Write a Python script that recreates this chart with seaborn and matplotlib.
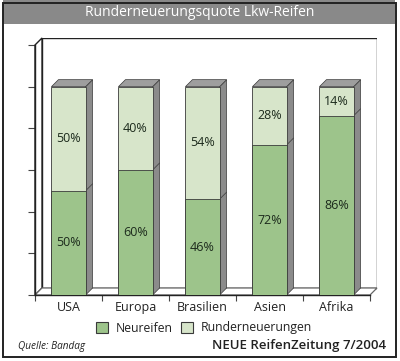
import numpy as np
import pandas as pd
import matplotlib
matplotlib.use("Agg")
import matplotlib.pyplot as plt
from matplotlib.patches import Polygon, Rectangle, Patch
import seaborn as sns

# data
regions = ["USA", "Europa", "Brasilien", "Asien", "Afrika"]
neureifen = [50, 60, 46, 72, 86]
runderneuerungen = [50, 40, 54, 28, 14]
series_names = ["Neureifen", "Runderneuerungen"]

title = "Runderneuerungsquote Lkw-Reifen"
source = "Quelle: Bandag"
credit = "NEUE ReifenZeitung 7/2004"

green = "#9dc48b"
light = "#d7e5ca"
side_gray = "#8b8b8b"
top_gray = "#9e9e9e"
text_dark = "#1c2a1c"

sns.set_theme(style="white")
plt.rcParams["font.family"] = ["Open Sans", "DejaVu Sans"]

W, H = 400, 361
fig = plt.figure(figsize=(W / 100, H / 100), dpi=100)

def fx(px):
    return px / W

def fy(py):
    return 1 - py / H

# frame and title bar
fig.patches.append(Rectangle((fx(3), fy(24)), fx(392), 24 / H, transform=fig.transFigure,
                             facecolor="#898989", edgecolor="none", zorder=0))
fig.patches.append(Rectangle((fx(3), fy(357)), fx(393), 354 / H, transform=fig.transFigure,
                             facecolor="none", edgecolor="#222222", linewidth=1.4, zorder=5))
fig.text(0.5, fy(12.5), title, color="white", ha="center", va="center", fontsize=10)

# axes: front plane spans x 35..370 px, y 295..45 px; depth 7 px
ax = fig.add_axes([fx(35), fy(295), fx(377 - 35), (295 - 38) / H])
dx = 7 / 67
dy = 7 / 208 * 100

df = pd.DataFrame({"region": regions, "neu": neureifen,
                   "total": np.array(neureifen) + np.array(runderneuerungen)})

sns.barplot(data=df, x="region", y="total", color=light, saturation=1, width=0.51,
            edgecolor="#3a3a3a", linewidth=0.6, ax=ax, zorder=3)
sns.barplot(data=df, x="region", y="neu", color=green, saturation=1, width=0.51,
            edgecolor="#3a3a3a", linewidth=0.6, ax=ax, zorder=3)

ax.set_xlim(-0.5, 4.5 + dx)
ax.set_ylim(0, 120 + dy)

# walls
back = Rectangle((-0.5 + dx, dy), 5, 120, facecolor="white", edgecolor="#222222",
                 linewidth=1.0, zorder=0.5)
ax.add_patch(back)
left = Polygon([(-0.5, 0), (-0.5, 120), (-0.5 + dx, 120 + dy), (-0.5 + dx, dy)],
               closed=True, facecolor="white", edgecolor="#222222", linewidth=1.0,
               zorder=0.6, clip_on=False)
ax.add_patch(left)
floor = Polygon([(-0.5, 0), (4.5, 0), (4.5 + dx, dy), (-0.5 + dx, dy)], closed=True,
                facecolor="white", edgecolor="#666666", linewidth=0.9, zorder=0.7,
                clip_on=False)
ax.add_patch(floor)

# 3d side and top faces of bars
n = len(regions)
tot_bars = ax.patches[:n]
for i, bar in enumerate(tot_bars):
    x0 = bar.get_x()
    w = bar.get_width()
    h = bar.get_height()
    xr = x0 + w
    ax.add_patch(Polygon([(xr, 0), (xr, h), (xr + dx, h + dy), (xr + dx, dy)], closed=True,
                         facecolor=side_gray, edgecolor="#3a3a3a", linewidth=0.5,
                         zorder=2.5, clip_on=False))
    ax.add_patch(Polygon([(x0, h), (xr, h), (xr + dx, h + dy), (x0 + dx, h + dy)],
                         closed=True, facecolor=top_gray, edgecolor="#3a3a3a",
                         linewidth=0.5, zorder=2.5, clip_on=False))
    nh = neureifen[i]
    ax.plot([xr, xr + dx], [nh, nh + dy], color="#3a3a3a", linewidth=0.5, zorder=2.6)
    # labels
    ax.text(i, nh / 2, f"{neureifen[i]}%", ha="center", va="center",
            fontsize=9, color=text_dark, zorder=4)
    ax.text(i, nh + runderneuerungen[i] / 2, f"{runderneuerungen[i]}%", ha="center",
            va="center", fontsize=9, color=text_dark, zorder=4)

# axes styling
for s in ["top", "right"]:
    ax.spines[s].set_visible(False)
ax.spines["left"].set_bounds(0, 120)
ax.spines["bottom"].set_bounds(-0.5, 4.5)
for s in ["left", "bottom"]:
    ax.spines[s].set_color("#222222")
    ax.spines[s].set_linewidth(1.0)
ax.set_yticks(range(0, 121, 20))
ax.set_yticklabels([])
ax.set_xticks(np.arange(-0.5, 5, 1))
ax.set_xticklabels([])
ax.set_xticks(range(n), minor=True)
ax.set_xticklabels(regions, minor=True, fontsize=9, color="#222222")
ax.tick_params(axis="y", which="major", direction="out", length=5, width=0.8,
               color="#444444", left=True)
ax.tick_params(axis="x", which="major", direction="out", length=4, width=0.8,
               color="#444444", bottom=True)
ax.tick_params(axis="x", which="minor", length=0, pad=4)
ax.set_xlabel("")
ax.set_ylabel("")
ax.patch.set_alpha(0)

# legend
handles = [Patch(facecolor=green, edgecolor="#3a3a3a", linewidth=0.8),
           Patch(facecolor=light, edgecolor="#3a3a3a", linewidth=0.8)]
fig.legend(handles, series_names, loc="center", bbox_to_anchor=(fx(204), fy(328)),
           ncol=2, frameon=False, fontsize=8.8, handlelength=1.0, handleheight=1.0,
           handletextpad=0.6, columnspacing=0.7, labelcolor="#222222")

fig.text(fx(18), fy(346), source, ha="left", va="center", fontsize=7.2,
         style="italic", color="#222222")
fig.text(fx(386), fy(346), credit, ha="right", va="center", fontsize=9.5,
         fontweight="semibold", color="#222222")

fig.savefig("out.png", dpi=100)
